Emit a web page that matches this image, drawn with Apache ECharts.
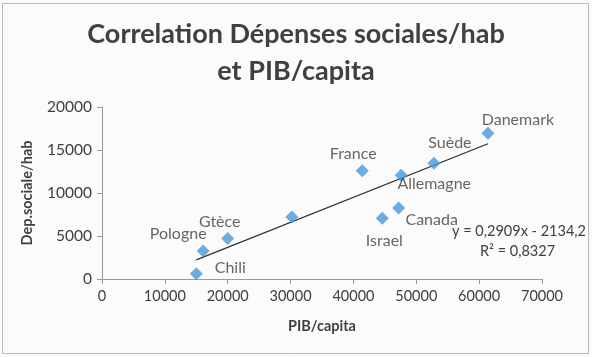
<!DOCTYPE html>
<html><head><meta charset="utf-8">
<script src="https://cdn.jsdelivr.net/npm/echarts@6/dist/echarts.min.js"></script>
<style>html,body{margin:0;padding:0;background:#fbfbfb}#c{width:592px;height:357px}</style>
</head><body><div id="c"></div>
<script>
const countries = ['Chili','Pologne','Gtèce','','France','Allemagne','Suède','Danemark','Canada','Israel'];
const pibCapita = [15000,16100,20000,30200,41400,47600,52800,61400,47200,44600];
const depSociale = [600,3250,4700,7200,12600,12050,13450,16950,8250,7050];
const trendSlope = 0.2909;
const trendIntercept = -2134.2;
const xTicks = [0,10000,20000,30000,40000,50000,60000,70000];
const yTicks = [0,5000,10000,15000,20000];

const labelOffsets = [[34,-6],[-25,-17],[-8,-17],[0,0],[-9,-17],[33,8],[16,-20],[30,-13],[33,12],[2,22]];

const font = 'Lato, "Open Sans", sans-serif';
const xMin = Math.min(...pibCapita), xMax = Math.max(...pibCapita);

const chart = echarts.init(document.getElementById('c'));
chart.setOption({
  backgroundColor: '#fbfbfb',
  animation: false,
  title: {
    text: 'Correlation Dépenses sociales/hab\net PIB/capita',
    left: 'center', top: 11,
    textStyle: {fontFamily: font, fontSize: 27, fontWeight: 'bold', color: '#404040', lineHeight: 37}
  },
  grid: {left: 102, right: 50, top: 107, bottom: 78},
  xAxis: {
    type: 'value', min: xTicks[0], max: xTicks[xTicks.length-1], interval: 10000,
    name: 'PIB/capita', nameLocation: 'middle', nameGap: 40, nameMoveOverlap: false,
    nameTextStyle: {fontFamily: font, fontSize: 14.5, fontWeight: 'bold', color: '#404040'},
    axisLine: {lineStyle: {color: '#9a9a9a'}},
    axisTick: {show: true, length: 5, lineStyle: {color: '#9a9a9a'}},
    axisLabel: {fontFamily: font, fontSize: 14.5, color: '#404040', margin: 10, formatter: v => String(v)},
    splitLine: {show: false}
  },
  yAxis: {
    type: 'value', min: yTicks[0], max: yTicks[yTicks.length-1], interval: 5000,
    name: 'Dep.sociale/hab', nameLocation: 'middle', nameGap: 67, nameMoveOverlap: false,
    nameTextStyle: {fontFamily: font, fontSize: 14.5, fontWeight: 'bold', color: '#404040'},
    axisLine: {show: true, lineStyle: {color: '#9a9a9a'}},
    axisTick: {show: true, length: 5, lineStyle: {color: '#9a9a9a'}},
    axisLabel: {fontFamily: font, fontSize: 15.5, color: '#404040', margin: 10, formatter: v => String(v)},
    splitLine: {show: false}
  },
  series: [
    {
      type: 'line',
      data: [[xMin, trendSlope*xMin + trendIntercept],[xMax, trendSlope*xMax + trendIntercept]],
      symbol: 'none',
      lineStyle: {color: '#303030', width: 1.3},
      z: 1
    },
    {
      type: 'scatter',
      symbol: 'diamond',
      symbolSize: 13,
      itemStyle: {color: '#4a98d8'},
      data: pibCapita.map((x, i) => ({
        value: [x, depSociale[i]],
        label: {
          show: countries[i] !== '',
          formatter: countries[i],
          position: 'inside',
          offset: labelOffsets[i],
          fontFamily: font, fontSize: 16, color: '#404040'
        }
      })),
      z: 2
    }
  ],
  graphic: [
    {type: 'rect', shape: {x: 2.5, y: 3.5, width: 586, height: 350}, style: {fill: 'none', stroke: '#b8b8b8', lineWidth: 1}, silent: true},
    {type: 'text', left: 452, top: 224, style: {text: 'y = 0,2909x - 2134,2', font: '14.5px ' + font, fill: '#404040'}},
    {type: 'text', left: 480, top: 244, style: {text: 'R² = 0,8327', font: '14.5px ' + font, fill: '#404040'}}
  ]
});
</script></body></html>
